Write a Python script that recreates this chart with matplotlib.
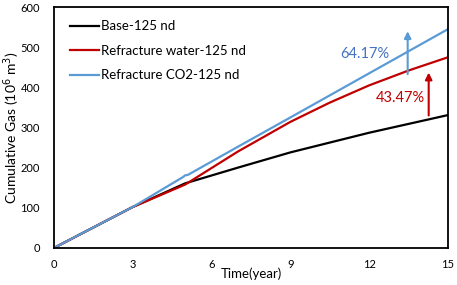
import matplotlib
matplotlib.use('Agg')
import matplotlib.pyplot as plt
import numpy as np

plt.rcParams['font.family'] = ['Lato', 'DejaVu Sans']

# data
t_base = [0, 3, 5, 7, 9, 12, 15]
base = [0, 102, 161, 200, 238, 287, 331]

t_water = [0, 3, 5, 7, 9, 10.5, 12, 13.5, 15]
water = [0, 102, 158, 240, 314, 362, 405, 442, 475]

t_co2 = [0, 3, 4.9, 5.0, 5.1, 7, 9, 12, 15]
co2 = [0, 102, 176, 181, 182, 252, 325, 435, 545]

labels = ['Base-125 nd', 'Refracture water-125 nd', 'Refracture CO2-125 nd']
colors = ['black', '#C00000', '#5B9BD5']

fig = plt.figure(figsize=(4.57, 2.85), dpi=100)
ax = fig.add_axes([0.118, 0.130, 0.862, 0.845])

ax.plot(t_base, base, color=colors[0], lw=1.6, label=labels[0])
ax.plot(t_water, water, color=colors[1], lw=1.6, label=labels[1])
ax.plot(t_co2, co2, color=colors[2], lw=1.6, label=labels[2])

# increase arrows
ax.annotate('', xy=(14.27, 437), xytext=(14.27, 330),
            arrowprops=dict(arrowstyle='-|>', color='#C00000', lw=1.5, mutation_scale=10, shrinkA=0, shrinkB=0))
ax.annotate('', xy=(13.47, 540), xytext=(13.47, 433),
            arrowprops=dict(arrowstyle='-|>', color='#5B9BD5', lw=1.5, mutation_scale=10, shrinkA=0, shrinkB=0))
ax.text(13.2, 373, '43.47%', color='#C00000', fontsize=10.5, ha='center', va='center')
ax.text(11.85, 484, '64.17%', color='#4472C4', fontsize=10.5, ha='center', va='center')

ax.set_xlim(0, 15)
ax.set_ylim(0, 600)
ax.set_xticks([0, 3, 6, 9, 12, 15])
ax.set_yticks(range(0, 601, 100))
ax.tick_params(length=0, labelsize=8, pad=8)
ax.tick_params(axis='y', pad=10)
for s in ax.spines.values():
    s.set_linewidth(1.3)

ax.set_xlabel('Time(year)', fontsize=9.5, labelpad=-2)
ax.set_ylabel('Cumulative Gas (10$^6$ m$^3$)', fontsize=10)
ax.yaxis.set_label_coords(-0.08, 0.5)

ax.legend(loc='upper left', frameon=False, fontsize=9.5, handlelength=2.2,
          handletextpad=0.2, labelspacing=0.95, bbox_to_anchor=(0.01, 0.995))

fig.savefig('out.png', dpi=100)
